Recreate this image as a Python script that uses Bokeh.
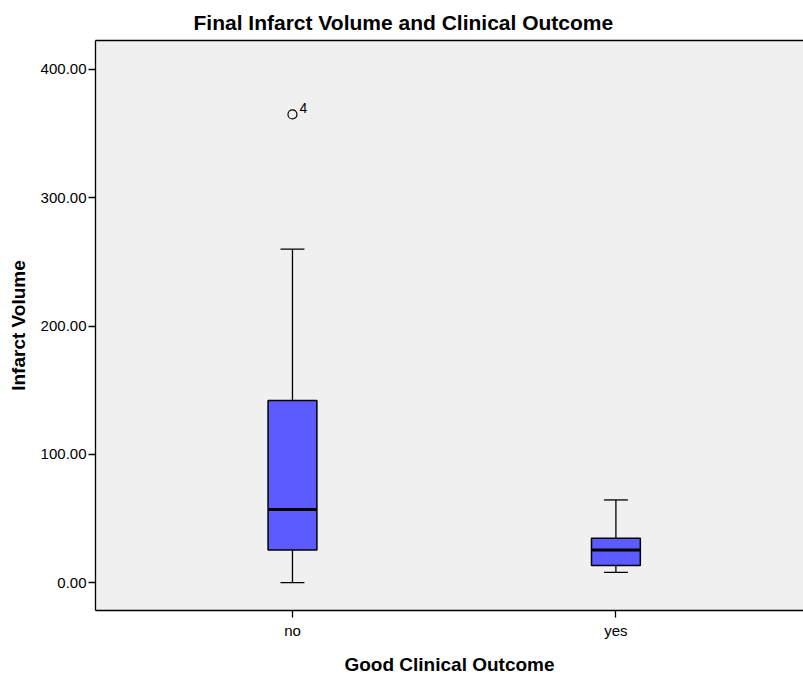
from bokeh.plotting import figure
from bokeh.models import (FixedTicker, LinearAxis, Range1d, ColumnDataSource)
from bokeh.core.properties import value
from bokeh.embed import file_html
from bokeh.resources import INLINE

categories = ["no", "yes"]
lower = [0.0, 8.0]
q1 = [25.4, 13.2]
median = [57.0, 25.4]
q3 = [141.9, 34.5]
upper = [260.0, 64.4]
outlier_cat = ["no"]
outlier_val = [365.0]
outlier_label = ["4"]
y_ticks = [0, 100, 200, 300, 400]

FONT = "Liberation Sans"
pos = {c: i + 1 for i, c in enumerate(categories)}
xs = [pos[c] for c in categories]
bw = 0.151
cw = 0.074

p = figure(width=803, height=677, output_backend="svg", toolbar_location=None,
           x_range=Range1d(0.391, 2.58), y_range=Range1d(-21.8, 422.6),
           min_border_left=95, min_border_right=0, min_border_top=40,
           min_border_bottom=66)
p.background_fill_color = "#f0f0f0"
p.border_fill_color = "white"
p.outline_line_color = None
p.grid.visible = False

p.title.text = "Final Infarct Volume and Clinical Outcome"
p.title.align = "left"
p.title.offset = 98
p.title.text_font = FONT
p.title.text_font_size = "21px"
p.title.text_font_style = "bold"
p.title.text_color = "black"
p.title.standoff = 13

src = ColumnDataSource(dict(x=xs, lower=lower, q1=q1, median=median, q3=q3, upper=upper,
                            cl=[x - cw / 2 for x in xs], cr=[x + cw / 2 for x in xs],
                            bl=[x - bw / 2 for x in xs], br=[x + bw / 2 for x in xs]))

# whiskers
p.segment(x0="x", y0="q3", x1="x", y1="upper", source=src, line_color="black", line_width=1.3)
p.segment(x0="x", y0="lower", x1="x", y1="q1", source=src, line_color="black", line_width=1.3)
p.segment(x0="cl", y0="upper", x1="cr", y1="upper", source=src, line_color="black", line_width=1.3)
p.segment(x0="cl", y0="lower", x1="cr", y1="lower", source=src, line_color="black", line_width=1.3)
# boxes
p.quad(left="bl", right="br", bottom="q1", top="q3", source=src,
       fill_color="#5b5bff", line_color="black", line_width=1.5)
p.segment(x0="bl", y0="median", x1="br", y1="median", source=src, line_color="black", line_width=3)

# outlier
osrc = ColumnDataSource(dict(x=[pos[c] for c in outlier_cat], y=outlier_val, t=outlier_label))
p.scatter(x="x", y="y", source=osrc, marker="circle", size=9, fill_color=None,
          line_color="black", line_width=1.2)
p.text(x="x", y="y", text="t", source=osrc, x_offset=7, y_offset=-1,
       text_font=value(FONT), text_font_size="14px", text_color="black",
       text_baseline="bottom", text_align="left")

# axes
p.xaxis.ticker = FixedTicker(ticks=xs)
p.xaxis.major_label_overrides = {x: c for x, c in zip(xs, categories)}
p.yaxis.ticker = FixedTicker(ticks=y_ticks)
p.yaxis.major_label_overrides = {t: f"{t:.2f}" for t in y_ticks}
for ax in (p.xaxis[0], p.yaxis[0]):
    ax.axis_line_color = "black"
    ax.axis_line_width = 1.3
    ax.major_tick_line_color = "black"
    ax.major_tick_line_width = 1.3
    ax.major_tick_out = 7
    ax.major_tick_in = 0
    ax.minor_tick_line_color = None
    ax.major_label_text_font = FONT
    ax.major_label_text_font_size = "15px"
    ax.major_label_text_color = "black"
    ax.axis_label_text_font = FONT
    ax.axis_label_text_font_size = "19px"
    ax.axis_label_text_font_style = "bold"
    ax.axis_label_text_color = "black"
p.xaxis.axis_label = "Good Clinical Outcome"
p.yaxis.axis_label = "Infarct Volume"
p.xaxis.major_label_standoff = 4
p.xaxis.axis_label_standoff = 12
p.yaxis.major_label_standoff = 2
p.yaxis.axis_label_standoff = 9

top = LinearAxis(ticker=FixedTicker(ticks=[]), major_label_text_font_size="0px",
                 axis_line_color="black", axis_line_width=1.3,
                 major_tick_line_color=None, minor_tick_line_color=None)
p.add_layout(top, "above")

open("out.html", "w").write(file_html(p, INLINE))
